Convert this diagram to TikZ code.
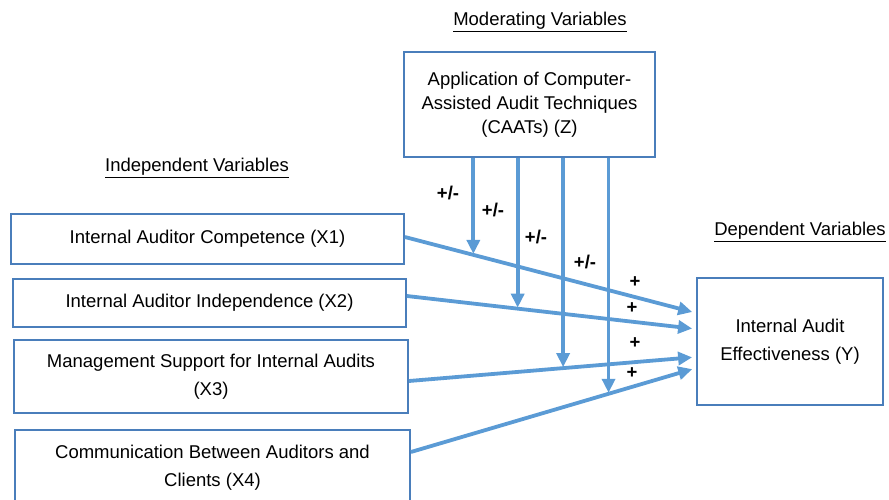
\documentclass[tikz,border=0pt]{standalone}
\usepackage{fontspec}
\setmainfont{Liberation Sans}
\usepackage{tikz}
\usetikzlibrary{arrows.meta}

\definecolor{boxblue}{RGB}{74,126,187}
\definecolor{flowblue}{RGB}{91,155,213}

\begin{document}
\begin{tikzpicture}[x=1pt,y=-1pt,
    varbox/.style={draw=boxblue, line width=1.8pt, align=center, inner sep=0pt,
                   font=\fontsize{18.5}{28}\selectfont},
    heading/.style={font=\fontsize{18.5}{22}\selectfont},
    flow/.style={draw=flowblue, line width=3.8pt, -{Triangle[length=14pt,width=13pt]}},
    sign/.style={font=\fontsize{18.5}{22}\selectfont\bfseries}]

   \useasboundingbox (0,0) rectangle (889,499);

   % headings
   \node[heading] (hmod) at (540,22) {\underline{Moderating Variables}};
   \node[heading] (hind) at (197,168) {\underline{Independent Variables}};
   \node[heading] (hdep) at (800,232) {\underline{Dependent Variables}};

   % moderating variable
   \node[varbox, minimum width=251pt, minimum height=105pt,
         font=\fontsize{18.5}{24}\selectfont] (z) at (529.5,104.5)
         {Application of Computer-\\Assisted Audit Techniques\\(CAATs) (Z)};

   % independent variables
   \node[varbox, minimum width=393pt, minimum height=50pt] (x1) at (207.5,239) {Internal Auditor Competence (X1)};
   \node[varbox, minimum width=393pt, minimum height=48pt] (x2) at (209.5,303) {Internal Auditor Independence (X2)};
   \node[varbox, minimum width=394pt, minimum height=73pt] (x3) at (211,376.5) {Management Support for Internal Audits\\(X3)};
   \node[varbox, minimum width=395pt, minimum height=76pt] (x4) at (212.5,468) {Communication Between Auditors and\\Clients (X4)};

   % dependent variable
   \node[varbox, minimum width=186pt, minimum height=127pt] (y) at (790,341.5) {Internal Audit\\Effectiveness (Y)};

   % direct effects
   \draw[flow, shorten >=4pt] ([yshift=2pt]x1.east) -- coordinate[pos=0.235] (m1) ([yshift=28.5pt]y.west);
   \draw[flow, shorten >=4pt] ([yshift=7pt]x2.east) -- coordinate[pos=0.383] (m2) ([yshift=12.5pt]y.west);
   \draw[flow, shorten >=4pt] ([yshift=-4.5pt]x3.east) -- coordinate[pos=0.537] (m3) ([yshift=-15.5pt]y.west);
   \draw[flow, shorten >=4pt] ([yshift=16pt]x4.east) -- coordinate[pos=0.693] (m4) ([yshift=-26.5pt]y.west);

   % moderating effects
   \draw[flow, shorten >=1pt] (z.south -| m1) -- (m1);
   \draw[flow, shorten >=1pt] (z.south -| m2) -- (m2);
   \draw[flow, shorten >=1pt] (z.south -| m3) -- (m3);
   \draw[flow, shorten >=1pt] (z.south -| m4) -- (m4);

   \node[sign] (s1) at (448,193) {+/-};
   \node[sign] (s2) at (493,210) {+/-};
   \node[sign] (s3) at (536,237) {+/-};
   \node[sign] (s4) at (585,262) {+/-};

   \node[sign] (p1) at (635,282) {+};
   \node[sign] (p2) at (632,308) {+};
   \node[sign] (p3) at (635,343) {+};
   \node[sign] (p4) at (632,373) {+};
\end{tikzpicture}
\end{document}
